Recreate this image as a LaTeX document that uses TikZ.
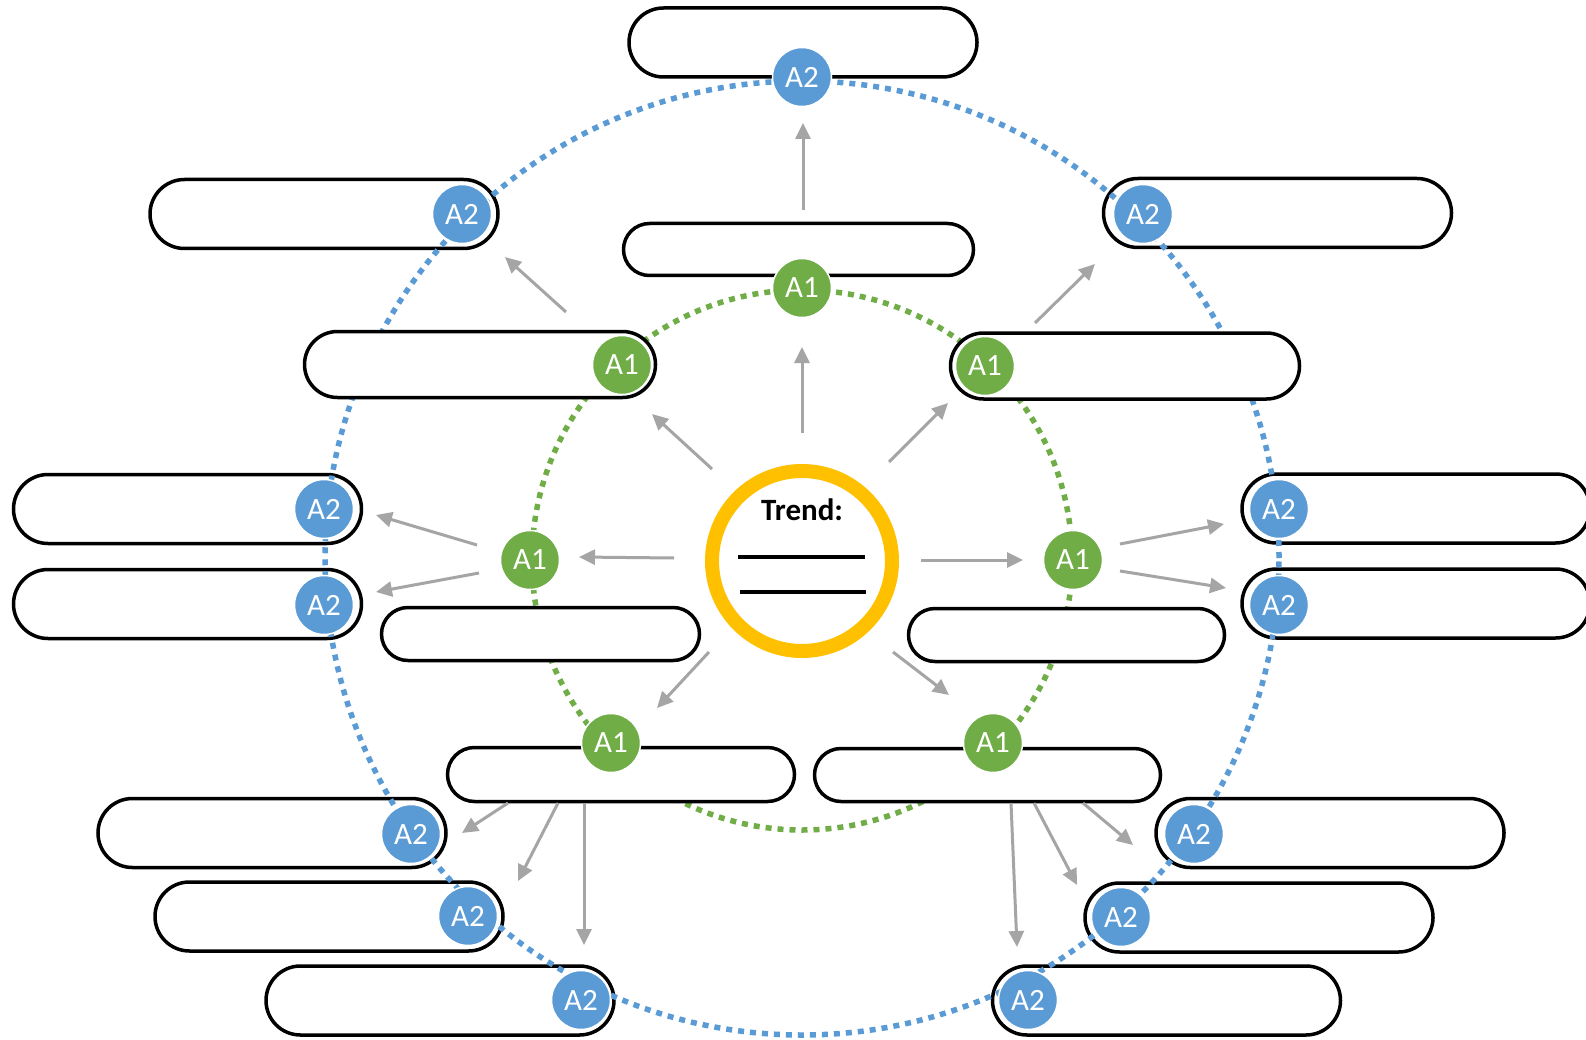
\documentclass[tikz,border=0pt]{standalone}
\usepackage{fontspec}
\setmainfont{Carlito}
\usetikzlibrary{shapes.misc,arrows.meta}
\definecolor{aone}{HTML}{70AD47}
\definecolor{atwo}{HTML}{5B9BD5}
\definecolor{ringc}{HTML}{FFC000}
\definecolor{arrc}{HTML}{A5A5A5}
\tikzset{
  pill/.style={rounded rectangle, draw=black, fill=white, line width=3.5pt, inner sep=0pt},
  pilltwo/.style={pill, minimum width=348pt, minimum height=69pt},
  badge/.style={circle, draw=white, line width=1.5pt, minimum size=59pt, inner sep=0pt,
    text=white, font=\fontsize{31pt}{36pt}\selectfont},
  aonebadge/.style={badge, fill=aone},
  atwobadge/.style={badge, fill=atwo},
  dotring/.style={line width=5.5pt, dash pattern=on 6pt off 6pt},
  flow/.style={draw=arrc, line width=3pt, -{Triangle[length=16pt,width=15pt]}}
}
\begin{document}
\begin{tikzpicture}[x=1pt,y=-1pt]
\clip (0,0) rectangle (1586,1040);
\fill[white] (0,0) rectangle (1586,1040);

% A2 pills
\node[pilltwo] (p2top) at (803,42.5) {};
\node[pilltwo] (p2tl) at (324,214) {};
\node[pilltwo] (p2tr) at (1277.5,213) {};
\node[pilltwo] (p2la) at (187.5,509) {};
\node[pilltwo] (p2lb) at (187.5,604) {};
\node[pilltwo] (p2ra) at (1416,508.5) {};
\node[pilltwo] (p2rb) at (1416,603.5) {};
\node[pilltwo] (p2bla) at (272,833) {};
\node[pilltwo] (p2blb) at (329,916.5) {};
\node[pilltwo] (p2blc) at (440,1000.5) {};
\node[pilltwo] (p2bra) at (1330,833) {};
\node[pilltwo] (p2brb) at (1259,917.5) {};
\node[pilltwo] (p2brc) at (1166.5,1000.5) {};

% dotted rings
\draw[dotring, draw=atwo] (802,558) circle[radius=477pt];
\draw[dotring, draw=aone] (802,560) circle[radius=270pt];

% A1 pills
\node[pill, minimum width=350pt, minimum height=52pt] (p1top) at (798.5,249.5) {};
\node[pill, minimum width=351pt, minimum height=66pt] (p1ul) at (480,364.5) {};
\node[pill, minimum width=349pt, minimum height=66pt] (p1ur) at (1125,366) {};
\node[pill, minimum width=318pt, minimum height=53pt] (p1l) at (540.5,634) {};
\node[pill, minimum width=316pt, minimum height=53pt] (p1r) at (1066.5,635) {};
\node[pill, minimum width=347pt, minimum height=54pt] (p1bl) at (621,774.5) {};
\node[pill, minimum width=346pt, minimum height=53pt] (p1br) at (987.5,775) {};

% central trend ring
\node[circle, draw=ringc, line width=14pt, minimum size=180pt, inner sep=0pt] (trend) at (802,561) {};
\node[anchor=base, font=\bfseries\fontsize{31pt}{36pt}\selectfont, inner sep=0pt] (trendlbl) at (802,520) {Trend:};
\draw[line width=4pt] (738,557) -- (865,557);
\draw[line width=4pt] (740,592) -- (866,592);

% arrow end points
\coordinate (cuS) at (802,433);  \coordinate (cuE) at (802,347);
\coordinate (culS) at (712,469); \coordinate (culE) at (652,414);
\coordinate (curS) at (889,462); \coordinate (curE) at (948,403);
\coordinate (clS) at (674,558);  \coordinate (clE) at (579,557);
\coordinate (crS) at (921,560);  \coordinate (crE) at (1023,560);
\coordinate (cblS) at (709,652); \coordinate (cblE) at (657,708);
\coordinate (cbrS) at (893,652); \coordinate (cbrE) at (949,695);
\coordinate (tS) at (803,210);   \coordinate (tE) at (803,123);
\coordinate (ulS) at (566,312);  \coordinate (ulE) at (505,257);
\coordinate (urS) at (1035,323); \coordinate (urE) at (1095,264);
\coordinate (laS) at (477,545);  \coordinate (laE) at (376,515);
\coordinate (lbS) at (479,573);  \coordinate (lbE) at (376,592);
\coordinate (raS) at (1120,544); \coordinate (raE) at (1224,524);
\coordinate (rbS) at (1120,571); \coordinate (rbE) at (1226,588);
\coordinate (blaS) at (508,803); \coordinate (blaE) at (462,833);
\coordinate (blbS) at (558,803); \coordinate (blbE) at (518,881);
\coordinate (blcS) at (584,803); \coordinate (blcE) at (584,945);
\coordinate (braS) at (1083,803); \coordinate (braE) at (1133,845);
\coordinate (brbS) at (1034,803); \coordinate (brbE) at (1077,885);
\coordinate (brcS) at (1011,803); \coordinate (brcE) at (1017,947);

\foreach \a in {cu,cul,cur,cl,cr,cbl,cbr,t,ul,ur,la,lb,ra,rb,bla,blb,blc,bra,brb,brc}
  \draw[flow] (\a S) -- (\a E);

% A1 badges
\node[aonebadge] (a1top) at (802,288) {A1};
\node[aonebadge] (a1ul) at (622,365) {A1};
\node[aonebadge] (a1ur) at (985,366) {A1};
\node[aonebadge] (a1l) at (530,560) {A1};
\node[aonebadge] (a1r) at (1073,560) {A1};
\node[aonebadge] (a1bl) at (611,743) {A1};
\node[aonebadge] (a1br) at (993,743) {A1};

% A2 badges
\node[atwobadge] (a2top) at (802,77) {A2};
\node[atwobadge] (a2tl) at (462,214) {A2};
\node[atwobadge] (a2tr) at (1143,214) {A2};
\node[atwobadge] (a2la) at (324,509) {A2};
\node[atwobadge] (a2lb) at (324,605) {A2};
\node[atwobadge] (a2ra) at (1279,509) {A2};
\node[atwobadge] (a2rb) at (1279,605) {A2};
\node[atwobadge] (a2bla) at (411,834) {A2};
\node[atwobadge] (a2blb) at (468,916) {A2};
\node[atwobadge] (a2blc) at (581,1000) {A2};
\node[atwobadge] (a2bra) at (1194,834) {A2};
\node[atwobadge] (a2brb) at (1121,917) {A2};
\node[atwobadge] (a2brc) at (1028,1000) {A2};
\end{tikzpicture}
\end{document}
